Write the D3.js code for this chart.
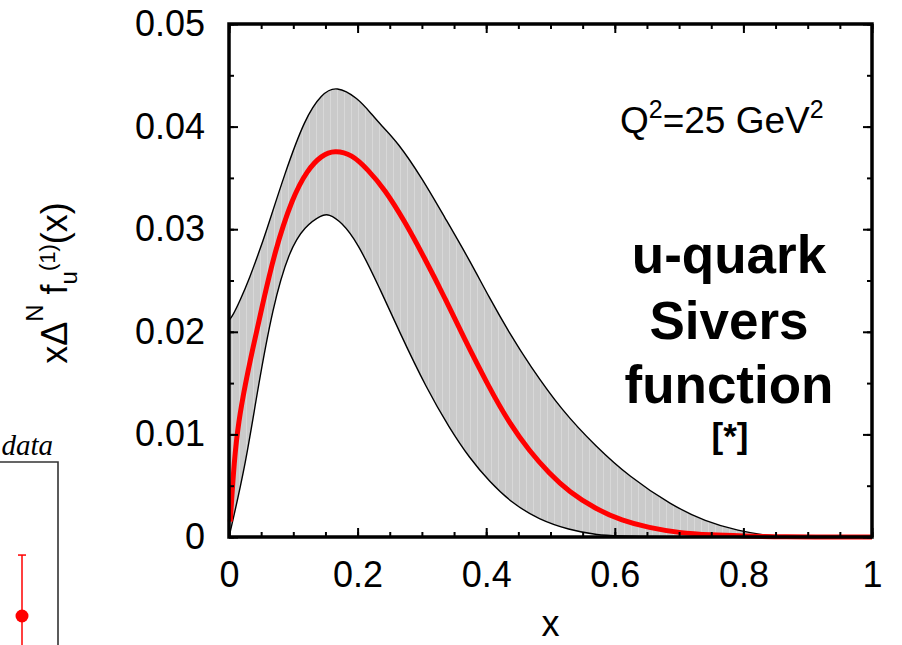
<!DOCTYPE html>
<html>
<head>
<meta charset="utf-8">
<script src="https://cdn.jsdelivr.net/npm/d3@7"></script>
<style>
  body { margin: 0; background: #fff; }
  svg { display: block; }
  text { font-family: "Liberation Sans", Arial, Helvetica, sans-serif; }
</style>
</head>
<body>
<svg id="drawing_region"></svg>
<script>
// upper edge of the uncertainty band  [x, value]
const upperEdge = [
  [0, 0.0211], [0.006, 0.0216], [0.017, 0.0230], [0.033, 0.0254], [0.045, 0.0275],
  [0.056, 0.0294], [0.087, 0.0355], [0.118, 0.0408], [0.144, 0.0432], [0.167, 0.0440],
  [0.200, 0.0428], [0.222, 0.0412], [0.237, 0.0401], [0.262, 0.0385], [0.300, 0.0350],
  [0.335, 0.0312], [0.374, 0.0270], [0.405, 0.0233], [0.436, 0.0199], [0.467, 0.0168],
  [0.518, 0.0123], [0.571, 0.0088], [0.622, 0.0059], [0.688, 0.0031], [0.741, 0.0015],
  [0.792, 0.0006], [0.840, 0.0001], [0.870, 0], [1.0, 0]
];
// lower edge of the band
const lowerEdge = [
  [0, 0], [0.025, 0.0068], [0.043, 0.0138], [0.068, 0.0225], [0.094, 0.0280],
  [0.118, 0.0303], [0.144, 0.0314], [0.155, 0.0315], [0.175, 0.0307], [0.200, 0.0287],
  [0.234, 0.0243], [0.265, 0.0200], [0.307, 0.0145], [0.343, 0.0106], [0.374, 0.0077],
  [0.405, 0.0054], [0.440, 0.0033], [0.482, 0.0017], [0.529, 0.0007], [0.571, 0.0002],
  [0.620, 0], [1.0, 0]
];
// central fit (red)
const centralFit = [
  [0.002, 0.0015], [0.008, 0.0075], [0.015, 0.0113], [0.025, 0.0148], [0.037, 0.0184],
  [0.052, 0.0226], [0.071, 0.0278], [0.098, 0.0330], [0.122, 0.0358], [0.144, 0.0372],
  [0.164, 0.0377], [0.191, 0.0373], [0.216, 0.0358], [0.242, 0.0339], [0.273, 0.0308],
  [0.304, 0.0272], [0.335, 0.0234], [0.363, 0.0197], [0.405, 0.0145], [0.436, 0.0111],
  [0.467, 0.0084], [0.498, 0.0062], [0.529, 0.0044], [0.571, 0.0027], [0.611, 0.0016],
  [0.653, 0.0009], [0.700, 0.0004], [0.750, 0.0002], [0.800, 0.0001], [0.850, 0], [1.0, 0]
];

const xTicks = [0, 0.2, 0.4, 0.6, 0.8, 1];
const xMinorTicks = d3.range(0, 1.0001, 0.05);
const yTicks = [0, 0.01, 0.02, 0.03, 0.04, 0.05];
const yMinorTicks = d3.range(0, 0.05001, 0.005);

// piece of the neighbouring panel cut off at the left
const neighborPoint = [{ x: 0.875, y: 0.0353, hi: 0.0609 }];

const config = {
  width: 902,
  height: 645,
  margin: { top: 24, right: 30, bottom: 108, left: 229 }
};

const svg = d3.select('#drawing_region')
  .attr('width', config.width)
  .attr('height', config.height);

const inner_width = config.width - config.margin.left - config.margin.right;
const inner_height = config.height - config.margin.top - config.margin.bottom;

const xscale = d3.scaleLinear().domain([0, 1]).range([0, inner_width]);
const yscale = d3.scaleLinear().domain([0, 0.05]).range([inner_height, 0]);

const defs = svg.append('defs');
const pat = defs.append('pattern')
  .attr('id', 'streaks')
  .attr('patternUnits', 'userSpaceOnUse')
  .attr('width', 7).attr('height', 10);
pat.append('rect').attr('width', 7).attr('height', 10).attr('fill', '#cacaca');
pat.append('rect').attr('x', 3).attr('width', 1).attr('height', 10).attr('fill', '#d8d8d8');

const chart = svg.append('g')
  .attr('transform', `translate(${config.margin.left}, ${config.margin.top})`);

const line = d3.line()
  .x(d => xscale(d[0]))
  .y(d => yscale(d[1]))
  .curve(d3.curveBasis);

// band: upper edge forward, lower edge back
const upperD = line(upperEdge);
const lowerRevD = line(lowerEdge.slice().reverse());
chart.append('path')
  .attr('d', upperD + 'L' + lowerRevD.slice(1) + 'Z')
  .attr('fill', 'url(#streaks)')
  .attr('stroke', 'none');

chart.append('path').attr('d', upperD)
  .attr('fill', 'none').attr('stroke', '#000').attr('stroke-width', 1.4);
chart.append('path').attr('d', line(lowerEdge))
  .attr('fill', 'none').attr('stroke', '#000').attr('stroke-width', 1.4);

chart.append('path').attr('d', line(centralFit))
  .attr('fill', 'none').attr('stroke', '#ff0000').attr('stroke-width', 5)
  .attr('stroke-linecap', 'butt');

// axes, ticks inward on all four sides
const fmtX = d => (+d.toFixed(2)).toString();
const fmtY = d => d === 0 ? '0' : d3.format('.2f')(d);

function styleAxis(g, w) {
  g.select('.domain').remove();
  g.selectAll('line').attr('stroke', '#000').attr('stroke-width', w);
  g.selectAll('text').attr('fill', '#000').style('font-size', '36px')
    .style('font-family', '"Liberation Sans", Arial, sans-serif');
}

chart.append('g').attr('transform', `translate(0, ${inner_height})`)
  .call(d3.axisBottom(xscale).tickValues(xMinorTicks).tickFormat('').tickSizeInner(-5).tickSizeOuter(0))
  .call(g => styleAxis(g, 2));
chart.append('g').attr('transform', `translate(0, ${inner_height})`)
  .call(d3.axisBottom(xscale).tickValues(xTicks).tickFormat(fmtX).tickSizeInner(-9).tickSizeOuter(0).tickPadding(24))
  .call(g => styleAxis(g, 2));

chart.append('g')
  .call(d3.axisTop(xscale).tickValues(xMinorTicks).tickFormat('').tickSizeInner(-5).tickSizeOuter(0))
  .call(g => styleAxis(g, 2));
chart.append('g')
  .call(d3.axisTop(xscale).tickValues(xTicks).tickFormat('').tickSizeInner(-9).tickSizeOuter(0))
  .call(g => styleAxis(g, 2));

chart.append('g')
  .call(d3.axisLeft(yscale).tickValues(yMinorTicks).tickFormat('').tickSizeInner(-5).tickSizeOuter(0))
  .call(g => styleAxis(g, 2));
chart.append('g')
  .call(d3.axisLeft(yscale).tickValues(yTicks).tickFormat(fmtY).tickSizeInner(-9).tickSizeOuter(0).tickPadding(24))
  .call(g => styleAxis(g, 2));

chart.append('g').attr('transform', `translate(${inner_width}, 0)`)
  .call(d3.axisRight(yscale).tickValues(yMinorTicks).tickFormat('').tickSizeInner(-5).tickSizeOuter(0))
  .call(g => styleAxis(g, 2));
chart.append('g').attr('transform', `translate(${inner_width}, 0)`)
  .call(d3.axisRight(yscale).tickValues(yTicks).tickFormat('').tickSizeInner(-9).tickSizeOuter(0))
  .call(g => styleAxis(g, 2));

// frame
chart.append('rect')
  .attr('width', inner_width).attr('height', inner_height)
  .attr('fill', 'none').attr('stroke', '#000').attr('stroke-width', 3.5);

// axis titles
svg.append('text')
  .attr('x', config.margin.left + inner_width / 2)
  .attr('y', 636)
  .attr('text-anchor', 'middle')
  .style('font-size', '36px')
  .text('x');

const ytitle = svg.append('text')
  .attr('transform', 'translate(67, 283) rotate(-90)')
  .attr('text-anchor', 'middle')
  .style('font-size', '36px');
ytitle.append('tspan').text('xΔ');
ytitle.append('tspan').attr('dy', -24).style('font-size', '24px').text('N');
ytitle.append('tspan').attr('dy', 24).text(' f');
ytitle.append('tspan').attr('dy', 10).style('font-size', '24px').text('u');
ytitle.append('tspan').attr('dy', -22).style('font-size', '22px').text('(1)');
ytitle.append('tspan').attr('dy', 12).text('(x)');

// annotations
const q = svg.append('text')
  .attr('x', 620).attr('y', 133)
  .style('font-size', '37px');
q.append('tspan').text('Q');
q.append('tspan').attr('dy', -15).style('font-size', '25px').text('2');
q.append('tspan').attr('dy', 15).text('=25 GeV');
q.append('tspan').attr('dy', -15).style('font-size', '25px').text('2');

const label = svg.append('g').attr('text-anchor', 'middle');
[['u-quark', 273], ['Sivers', 339], ['function', 403]].forEach(([t, y]) => {
  label.append('text').attr('x', 729).attr('y', y)
    .style('font-size', '53px').style('font-weight', 'bold').text(t);
});
label.append('text').attr('x', 730).attr('y', 448)
  .style('font-size', '35px').style('font-weight', 'bold').text('[*]');

// neighbouring panel fragment
const nx = d3.scaleLinear().domain([0, 1]).range([-230, 58]);
const ny = d3.scaleLinear().domain([0, 0.1]).range([700, 462]);

svg.append('text')
  .attr('x', 53).attr('y', 455)
  .attr('text-anchor', 'end')
  .style('font-family', '"Liberation Serif", "Times New Roman", serif')
  .style('font-style', 'italic')
  .style('font-size', '29px')
  .text('data');

svg.append('path')
  .attr('d', `M${nx(0.5)},${ny(0.1)}H${nx(1)}V${config.height}`)
  .attr('fill', 'none').attr('stroke', '#333').attr('stroke-width', 1.6);

const np = svg.append('g');
np.selectAll('line.err').data(neighborPoint).join('line')
  .attr('x1', d => nx(d.x)).attr('x2', d => nx(d.x))
  .attr('y1', d => ny(d.hi)).attr('y2', config.height)
  .attr('stroke', '#ff0000').attr('stroke-width', 1.5);
np.selectAll('line.cap').data(neighborPoint).join('line')
  .attr('x1', d => nx(d.x) - 4).attr('x2', d => nx(d.x) + 4)
  .attr('y1', d => ny(d.hi)).attr('y2', d => ny(d.hi))
  .attr('stroke', '#ff0000').attr('stroke-width', 1.5);
np.selectAll('circle').data(neighborPoint).join('circle')
  .attr('cx', d => nx(d.x)).attr('cy', d => ny(d.y)).attr('r', 6.5)
  .attr('fill', '#ff0000');
</script>
</body>
</html>
